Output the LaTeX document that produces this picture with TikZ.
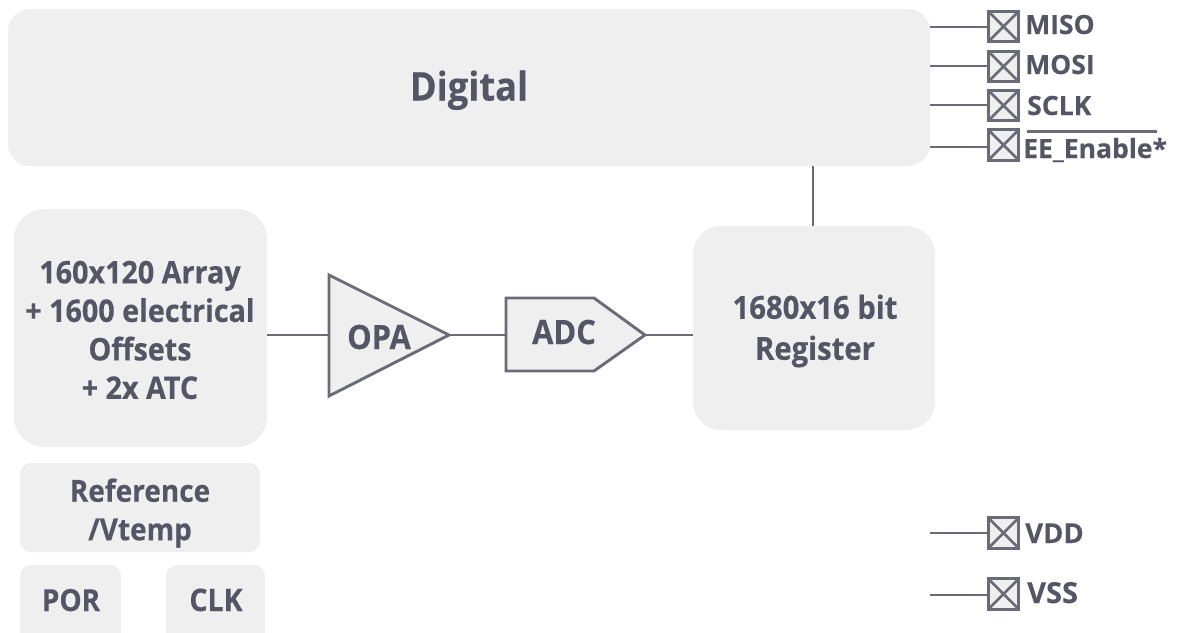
\documentclass[tikz,border=0pt]{standalone}
\usepackage{fontspec}
\setmainfont{Open Sans}[BoldFeatures={FakeStretch=0.92,FakeBold=0.3}]
\newfontfamily\pinfont{Open Sans}[BoldFeatures={FakeBold=0.3}]
\definecolor{blockfill}{HTML}{EFEFF0}
\definecolor{linecol}{HTML}{6B6B78}
\definecolor{textcol}{HTML}{555566}
\newcommand{\labsize}[1]{\bfseries\fontsize{#1}{38.5}\selectfont}
\tikzset{
  block/.style={fill=blockfill,draw=none,rectangle,inner sep=0pt},
  lab/.style={text=textcol,font=\labsize{31},align=center,inner sep=0pt},
  pinlab/.style={text=textcol,font=\pinfont\bfseries\fontsize{26.5}{30}\selectfont,anchor=base west,inner sep=0pt},
  conn/.style={draw=linecol,line width=2.9pt},
  shapeline/.style={draw=linecol,line width=2.9pt,fill=blockfill,miter limit=10},
  pad/.style={rectangle,draw=linecol,fill=blockfill,line width=3.2pt,minimum size=30.5pt,inner sep=0pt,
    path picture={\draw[linecol,line width=2.6pt]
      (path picture bounding box.north west)--(path picture bounding box.south east)
      (path picture bounding box.north east)--(path picture bounding box.south west);}}
}
\begin{document}
\begin{tikzpicture}[x=1pt,y=-1pt]
\useasboundingbox (0,0) rectangle (1177,632);
\begin{scope}
\clip (0,0) rectangle (1177,632);
% blocks
\node[block,rounded corners=22pt,minimum width=922pt,minimum height=157pt] (digital) at (469,87.5) {};
\node[block,rounded corners=30pt,minimum width=253pt,minimum height=238pt] (array) at (140.5,328) {};
\node[block,rounded corners=28pt,minimum width=242pt,minimum height=204pt] (register) at (814,328) {};
\node[block,rounded corners=11pt,minimum width=240pt,minimum height=89pt] (reference) at (140,507.5) {};
\node[block,rounded corners=11pt,minimum width=101pt,minimum height=90pt] (por) at (70.5,610) {};
\node[block,rounded corners=11pt,minimum width=99pt,minimum height=90pt] (clk) at (215.5,610) {};
% connector anchors
\coordinate (dMiso) at (930,27);
\coordinate (dMosi) at (930,66);
\coordinate (dSclk) at (930,105);
\coordinate (dEE) at (930,147);
\coordinate (fVdd) at (930,533);
\coordinate (fVss) at (930,595);
\coordinate (opaIn) at (329,335);
\coordinate (opaOut) at (449,335);
\coordinate (adcIn) at (506,335);
\coordinate (adcOut) at (645,335);
\coordinate (arrOut) at (267,335);
\coordinate (regIn) at (693,335);
\coordinate (regTop) at (813,226);
\coordinate (digBot) at (813,166);
% connectors
\draw[conn] (arrOut) -- (opaIn);
\draw[conn] (opaOut) -- (adcIn);
\draw[conn] (adcOut) -- (regIn);
\draw[conn] (regTop) -- (digBot);
% amplifier and converter
\draw[shapeline] (329,275) -- (449,335) -- (329,396) -- cycle;
\draw[shapeline] (506,298) -- (594,298) -- (645,335) -- (594,371) -- (506,371) -- cycle;
% pads
\node[pad] (pMiso) at (1003.5,26.5) {};
\node[pad] (pMosi) at (1003.5,66.5) {};
\node[pad] (pSclk) at (1003.5,105.5) {};
\node[pad] (pEE) at (1003.5,145) {};
\node[pad] (pVdd) at (1003.5,533) {};
\node[pad] (pVss) at (1003.5,594) {};
\draw[conn] (dMiso) -- (pMiso.west |- dMiso);
\draw[conn] (dMosi) -- (pMosi.west |- dMosi);
\draw[conn] (dSclk) -- (pSclk.west |- dSclk);
\draw[conn] (dEE) -- (pEE.west |- dEE);
\draw[conn] (fVdd) -- (pVdd.west |- fVdd);
\draw[conn] (fVss) -- (pVss.west |- fVss);
% labels
\node[lab,font=\labsize{39.5},anchor=base] (tDigital) at (469,100.5) {Digital};
\node[lab,font=\labsize{31.2},anchor=center] (tArray) at (140,330) {160x120 Array\\+ 1600 electrical\\Offsets\\+ 2x ATC};
\node[lab,font=\labsize{33.5},anchor=base] (tOpa) at (379,349) {OPA};
\node[lab,font=\labsize{33.5},anchor=base] (tAdc) at (564,344) {ADC};
\node[lab,font=\bfseries\fontsize{31.8}{41}\selectfont,anchor=center] (tReg) at (815,331) {1680x16 bit\\Register};
\node[lab,font=\labsize{30.4},anchor=center] (tRef) at (140,513) {Reference\\/Vtemp};
\node[lab,font=\labsize{30.4},anchor=base] (tPor) at (71,611) {POR};
\node[lab,font=\labsize{31},anchor=base] (tClk) at (216,611) {CLK};
\node[pinlab] (tMiso) at (1025,34) {MISO};
\node[pinlab] (tMosi) at (1025,74) {MOSI};
\node[pinlab] (tSclk) at (1027,115) {SCLK};
\node[pinlab] (tEE) at (1023,158) {EE\_Enable*};
\node[pinlab,font=\pinfont\bfseries\fontsize{27.5}{30}\selectfont] (tVdd) at (1025,543) {VDD};
\node[pinlab,font=\pinfont\bfseries\fontsize{29}{30}\selectfont] (tVss) at (1027,603) {VSS};
\draw[draw=linecol,line width=2.4pt] (1027,131.5) -- (1157,131.5);
\end{scope}
\end{tikzpicture}
\end{document}
